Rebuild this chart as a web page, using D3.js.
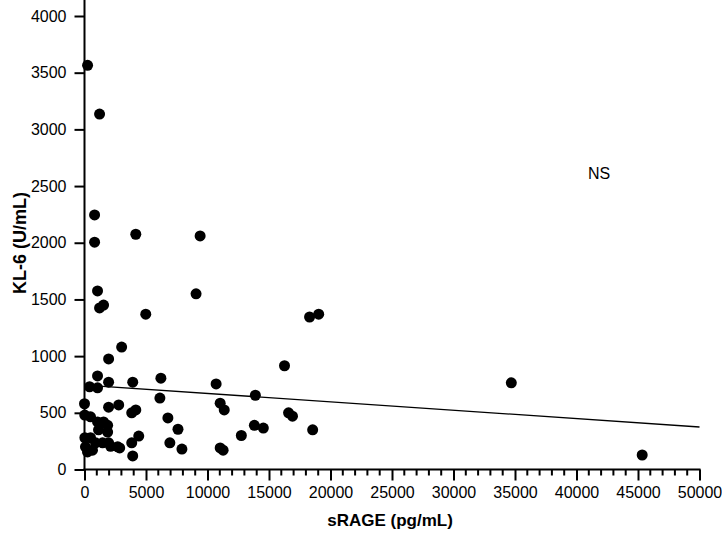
<!DOCTYPE html>
<html>
<head>
<meta charset="utf-8">
<script src="https://cdn.jsdelivr.net/npm/d3@7"></script>
<style>
  body { margin: 0; background: white; }
  svg { display: block; font-family: "Liberation Sans", Arial, sans-serif; }
</style>
</head>
<body>
<div id="chart"></div>
<script>
// sRAGE (pg/mL) vs KL-6 (U/mL)
var srage = [250, 1225, 820, 820, 1060, 1550, 1225, 1960, 3020, 4980,
             4170, 9400, 9070, 18300, 19040, 16260, 34700, 45340, 3920, 6210,
             10700, 13890, 11030, 11360, 16910, 16590, 18550, 14540, 13810, 12750,
             6130, 6780, 7600, 7920, 6940, 11030, 11270, 4170, 3840, 4410,
             3840, 3920, 2780, 1960, 2700, 1060, 1960, 410, 1060, 0,
             20, 490, 1060, 1550, 1880, 1140, 1880, 30, 490, 900,
             1470, 1960, 80, 650, 2120, 2860, 245];
var kl6 = [3565, 3135, 2245, 2005, 1575, 1450, 1425, 975, 1080, 1370,
           2075, 2060, 1550, 1345, 1370, 915, 765, 128, 770, 805,
           755, 655, 585, 525, 470, 500, 350, 365, 390, 300,
           630, 455, 355, 180, 235, 190, 170, 525, 500, 295,
           235, 120, 570, 550, 200, 825, 770, 730, 720, 580,
           480, 465, 420, 420, 390, 350, 330, 280, 280, 235,
           235, 235, 200, 170, 205, 190, 155];

// regression line end points
var fitX = [0, 50000];
var fitY = [745, 375];

var xTicks = d3.range(0, 50001, 5000);
var xMinor = d3.range(0, 50001, 1000);
var yTicks = d3.range(0, 4001, 500);

var width = 722, height = 536;

var svg = d3.select("#chart").append("svg")
    .attr("width", width)
    .attr("height", height);

var x = d3.scaleLinear().domain([0, 50000]).range([84.5, 699.5]);
var y = d3.scaleLinear().domain([0, 4000]).range([469.5, 16]);

// y axis
var yAxis = svg.append("g")
    .attr("transform", "translate(" + x(0) + ",0)")
    .call(d3.axisLeft(y).tickValues(yTicks).tickFormat(d3.format("d"))
      .tickSize(10).tickSizeOuter(0).tickPadding(8));
yAxis.select(".domain").remove();
yAxis.append("line")
    .attr("x1", 0).attr("x2", 0)
    .attr("y1", 0).attr("y2", y(0) + 1)
    .attr("stroke", "black").attr("stroke-width", 2);
yAxis.selectAll(".tick line").attr("stroke-width", 2);
yAxis.selectAll("text").attr("font-size", 16).attr("fill", "black")
    .attr("font-family", "Liberation Sans, Arial, sans-serif");

// x axis
var xAxis = svg.append("g")
    .attr("transform", "translate(0," + y(0) + ")");
xAxis.selectAll(".minor")
    .data(xMinor.filter(function(d) { return d % 5000 != 0; }))
    .enter().append("line")
    .attr("x1", function(d) { return x(d); })
    .attr("x2", function(d) { return x(d); })
    .attr("y1", 0).attr("y2", 6)
    .attr("stroke", "black").attr("stroke-width", 2);
xAxis.call(d3.axisBottom(x).tickValues(xTicks).tickFormat(d3.format("d"))
    .tickSize(11).tickSizeOuter(0).tickPadding(6));
xAxis.select(".domain").remove();
xAxis.append("line")
    .attr("x1", x(0) - 1).attr("x2", x(50000) + 1)
    .attr("y1", 0).attr("y2", 0)
    .attr("stroke", "black").attr("stroke-width", 2);
xAxis.selectAll(".tick line").attr("stroke-width", 2);
xAxis.selectAll("text").attr("font-size", 16).attr("fill", "black")
    .attr("font-family", "Liberation Sans, Arial, sans-serif");

// regression line
svg.append("line")
    .attr("x1", x(fitX[0])).attr("y1", y(fitY[0]))
    .attr("x2", x(fitX[1])).attr("y2", y(fitY[1]))
    .attr("stroke", "black").attr("stroke-width", 1.3);

// points
svg.append("g")
  .selectAll("circle")
  .data(srage)
  .enter()
  .append("circle")
    .attr("cx", function(d) { return x(d); })
    .attr("cy", function(d, i) { return y(kl6[i]); })
    .attr("r", 5.5)
    .attr("fill", "black");

// labels
svg.append("text")
    .attr("x", 390).attr("y", 526)
    .attr("text-anchor", "middle")
    .attr("font-size", 17).attr("font-weight", "bold")
    .text("sRAGE (pg/mL)");

svg.append("text")
    .attr("transform", "translate(26,243) rotate(-90)")
    .attr("text-anchor", "middle")
    .attr("font-size", 18).attr("font-weight", "bold")
    .text("KL-6 (U/mL)");

svg.append("text")
    .attr("x", 599).attr("y", 179)
    .attr("text-anchor", "middle")
    .attr("font-size", 16)
    .text("NS");
</script>
</body>
</html>
